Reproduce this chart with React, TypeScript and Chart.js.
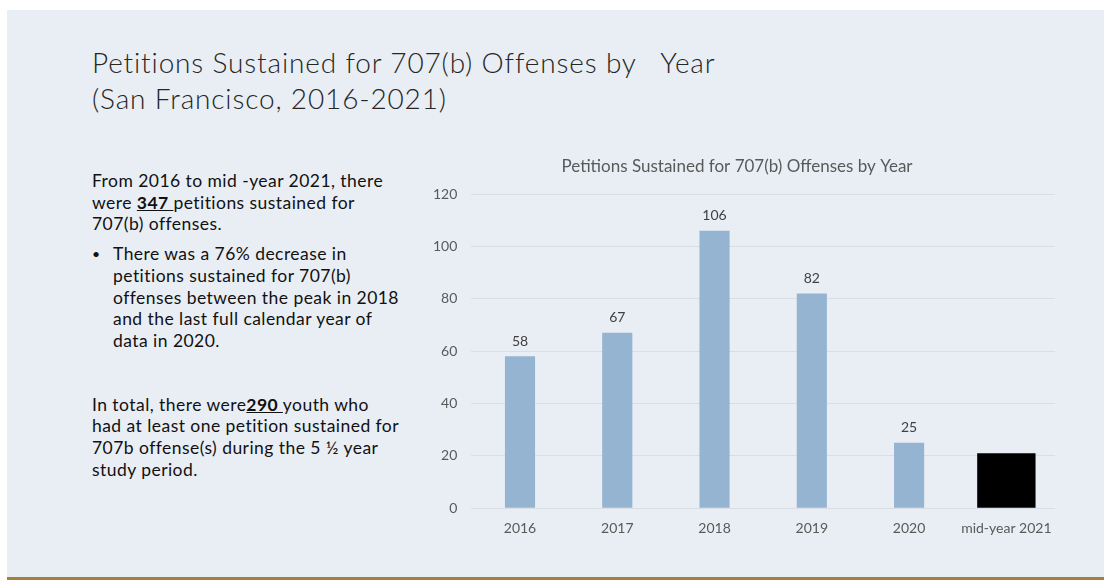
import React, { useEffect, useRef } from "react";
import { Chart, registerables } from "chart.js";

Chart.register(...registerables);

const categories = ["2016", "2017", "2018", "2019", "2020", "mid-year 2021"];
const sustained: (number | null)[] = [58, 67, 106, 82, 25, null];
const midYearObscured: (number | null)[] = [null, null, null, null, null, 21];
const yMin = 0;
const yMax = 120;
const yStep = 20;
const chartTitle = "Petitions Sustained for 707(b) Offenses by Year";

const FONT = "Lato, 'Open Sans', sans-serif";

const valueLabels = {
  id: "valueLabels",
  afterDatasetsDraw(chart: any) {
    const ctx = chart.ctx;
    const meta = chart.getDatasetMeta(0);
    ctx.save();
    ctx.font = `14px ${FONT}`;
    ctx.fillStyle = "#404040";
    ctx.textAlign = "center";
    ctx.textBaseline = "middle";
    meta.data.forEach((bar: any, i: number) => {
      const v = sustained[i];
      if (v === null || v === undefined) return;
      ctx.fillText(String(v), bar.x, bar.y - 15);
    });
    ctx.restore();
  },
};

function BarChart() {
  const ref = useRef<HTMLCanvasElement>(null);
  useEffect(() => {
    if (!ref.current) return;
    const chart = new Chart(ref.current, {
      type: "bar",
      data: {
        labels: categories,
        datasets: [
          {
            label: "Petitions sustained",
            data: sustained,
            backgroundColor: "#95b4d2",
            barPercentage: 0.31,
            categoryPercentage: 1,
            grouped: false,
          } as any,
          {
            label: "mid-year 2021",
            data: midYearObscured,
            backgroundColor: "#000000",
            barPercentage: 0.6,
            categoryPercentage: 1,
            grouped: false,
          } as any,
        ],
      },
      options: {
        responsive: false,
        animation: false,
        devicePixelRatio: 1,
        layout: { padding: { left: 9, right: 15, top: 0, bottom: 1 } },
        plugins: {
          legend: { display: false },
          tooltip: { enabled: false },
          title: {
            display: true,
            text: chartTitle,
            color: "#595959",
            font: { family: FONT, size: 17, weight: "normal" as any },
            padding: { top: 6, bottom: 17.6 },
          },
        },
        scales: {
          x: {
            grid: { display: false, drawTicks: false },
            border: { display: false },
            ticks: {
              color: "#595959",
              font: { family: FONT, size: 14 },
              padding: 12,
            },
          },
          y: {
            min: yMin,
            max: yMax,
            ticks: {
              stepSize: yStep,
              color: "#595959",
              font: { family: FONT, size: 14 },
              padding: 14,
            },
            grid: { color: "#d9dde4", lineWidth: 1, drawTicks: false },
            border: { display: false },
          },
        },
      },
      plugins: [valueLabels],
    });
    return () => chart.destroy();
  }, []);
  return <canvas ref={ref} width={660} height={400} style={{ display: "block" }} />;
}

export default function App() {
  return (
    <div
      style={{
        position: "absolute",
        left: 0,
        top: 0,
        width: 1104,
        height: 580,
        background: "#ffffff",
        overflow: "hidden",
        fontFamily: FONT,
      }}
    >
      <div
        style={{
          position: "absolute",
          left: 7,
          top: 10,
          right: 0,
          bottom: 0,
          background: "#e9eef5",
        }}
      />
      <div
        style={{
          position: "absolute",
          left: 7,
          right: 0,
          top: 577,
          height: 3,
          background: "#a5803a",
        }}
      />
      <div
        style={{
          position: "absolute",
          left: 92,
          top: 45,
          fontSize: 28,
          lineHeight: "35.5px",
          fontWeight: 300,
          letterSpacing: "0.85px",
          color: "#262626",
          whiteSpace: "pre",
        }}
      >
        {"Petitions Sustained for 707(b) Offenses by   Year\n(San Francisco, 2016-2021)"}
      </div>
      <div
        style={{
          position: "absolute",
          left: 92,
          top: 170,
          fontSize: 17.5,
          lineHeight: "21.7px",
          letterSpacing: "0.45px",
          color: "#111111",
          whiteSpace: "nowrap",
        }}
      >
        <div>
          From 2016 to mid -year 2021, there
          <br />
          were{" "}
          <u>
            <b>347 </b>
          </u>{" "}
          petitions sustained for
          <br />
          707(b) offenses.
        </div>
        <div style={{ position: "relative", marginTop: 8, paddingLeft: 21 }}>
          <span style={{ position: "absolute", left: 0, top: 0, fontSize: 14 }}>•</span>
          There was a 76% decrease in
          <br />
          petitions sustained for 707(b)
          <br />
          offenses between the peak in 2018
          <br />
          and the last full calendar year of
          <br />
          data in 2020.
        </div>
        <div style={{ marginTop: 42 }}>
          In total, there were
          <u>
            <b>290 </b>
          </u>{" "}
          youth who
          <br />
          had at least one petition sustained for
          <br />
          707b offense(s) during the 5 ½ year
          <br />
          study period.
        </div>
      </div>
      <div style={{ position: "absolute", left: 410, top: 150 }}>
        <BarChart />
      </div>
    </div>
  );
}
